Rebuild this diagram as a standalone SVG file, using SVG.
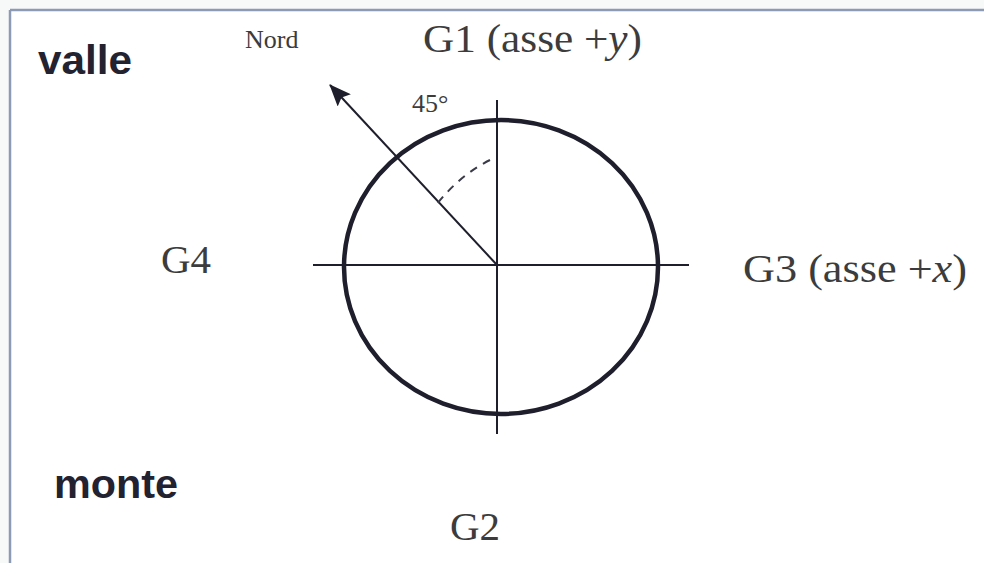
<svg xmlns="http://www.w3.org/2000/svg" width="984" height="563" viewBox="0 0 984 563">
<defs>
<marker id="ah" markerWidth="22" markerHeight="18" refX="21" refY="9" orient="auto" markerUnits="userSpaceOnUse" viewBox="0 0 22 18">
<path d="M0,0 L22,9 L0,18 L4,9 Z" fill="#1e1e2c"/>
</marker>
<style>
.serif{font-family:"Liberation Serif","Times New Roman",serif;fill:#3c3c3c;}
.sans{font-family:"Liberation Sans",Arial,sans-serif;font-weight:bold;fill:#222230;}
.axis{stroke:#1e1e2c;stroke-width:2;fill:none;}
</style>
</defs>
<rect x="0" y="0" width="984" height="563" fill="#ffffff"/>
<rect x="0" y="0" width="984" height="10" fill="#f7f9f9"/>
<rect x="0" y="10" width="10" height="553" fill="#f7f9f9"/>
<g id="frame" stroke="#8d9ab5" stroke-width="2.5" fill="none">
<line x1="10" y1="10" x2="984" y2="10"/>
<line x1="10" y1="10" x2="10" y2="563"/>
</g>
<g id="circle">
<ellipse cx="501" cy="267" rx="157" ry="147" fill="none" stroke="#1e1e2c" stroke-width="4.5"/>
</g>
<g id="connectors">
<line class="axis" x1="313" y1="265" x2="689" y2="265"/>
<line class="axis" x1="497" y1="100" x2="497" y2="434"/>
<line class="axis" x1="497" y1="265" x2="330" y2="85" marker-end="url(#ah)"/>
<path d="M490,160 Q460,175 437,204" fill="none" stroke="#3a3a48" stroke-width="2" stroke-dasharray="8,7"/>
</g>
<g id="valle"><text class="sans" x="38" y="74" font-size="40" textLength="94" lengthAdjust="spacingAndGlyphs">valle</text></g>
<g id="monte"><text class="sans" x="54" y="498" font-size="40" textLength="124" lengthAdjust="spacingAndGlyphs">monte</text></g>
<g id="nord"><text class="serif" x="245" y="48" font-size="26" fill="#333">Nord</text></g>
<g id="g1"><text class="serif" x="423" y="52" font-size="40" textLength="219" lengthAdjust="spacingAndGlyphs">G1 (asse +<tspan font-style="italic">y</tspan>)</text></g>
<g id="angle"><text class="serif" x="412" y="112" font-size="26">45°</text></g>
<g id="g4"><text class="serif" x="161" y="273" font-size="41">G4</text></g>
<g id="g3"><text class="serif" x="743" y="282" font-size="41" textLength="224" lengthAdjust="spacingAndGlyphs">G3 (asse +<tspan font-style="italic">x</tspan>)</text></g>
<g id="g2"><text class="serif" x="450" y="540" font-size="41">G2</text></g>
</svg>
